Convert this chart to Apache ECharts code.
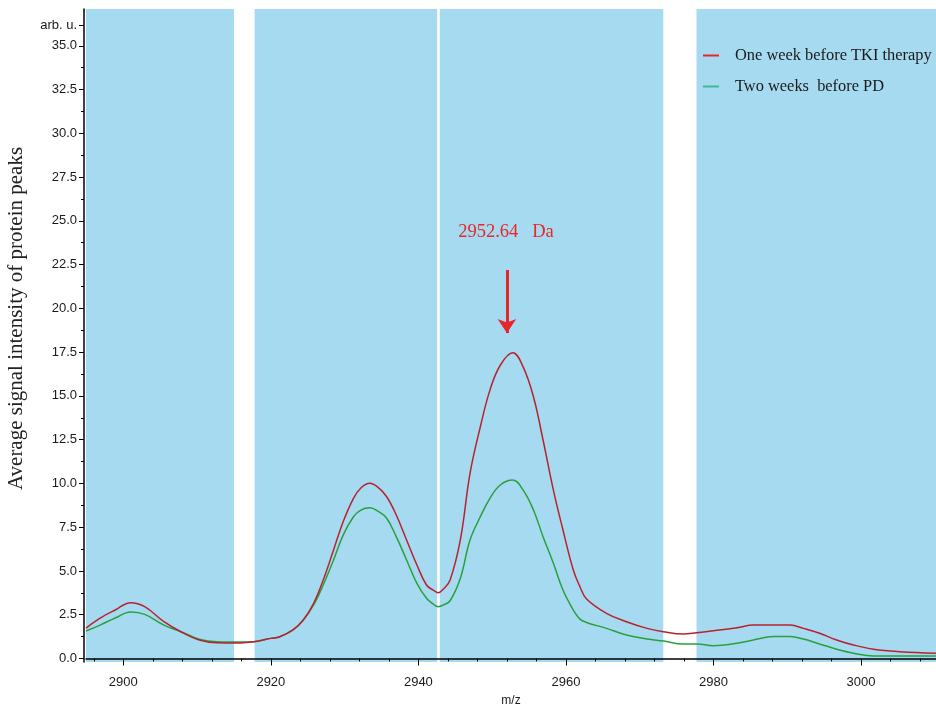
<!DOCTYPE html>
<html>
<head>
<meta charset="utf-8">
<script src="https://cdn.jsdelivr.net/npm/echarts@6/dist/echarts.min.js"></script>
<style>html,body{margin:0;padding:0;background:#fff}#c{width:936px;height:708px}</style>
</head>
<body>
<div id="c"></div>
<script>
// ---- data ----
var mz = [2894.94,2896.86,2898.9,2901.0,2902.9,2905.5,2907.8,2910.3,2912.7,2915.9,2917.7,2920.0,2921.2,2923.0,2924.4,2925.8,2927.1,2928.5,2929.8,2931.2,2932.2,2933.4,2934.5,2935.7,2937.0,2938.4,2939.8,2941.1,2942.0,2942.7,2943.4,2944.3,2945.7,2947.0,2948.4,2949.7,2951.1,2952.8,2954.2,2955.6,2956.9,2958.3,2959.6,2961.0,2961.9,2962.8,2965.5,2968.2,2971.0,2973.2,2975.9,2977.7,2980.0,2983.2,2985.4,2988.1,2990.4,2992.2,2994.4,2996.7,2999.0,3001.7,3005.3,3010.2];
var oneWeekTKI = [1.74,2.31,2.77,3.19,2.96,2.10,1.53,1.06,0.90,0.89,0.96,1.15,1.24,1.63,2.20,3.15,4.48,6.20,7.81,9.15,9.74,10.01,9.79,9.24,8.20,6.77,5.34,4.20,3.91,3.76,3.97,4.48,6.80,10.58,13.24,15.33,16.75,17.46,16.66,14.95,12.48,9.62,7.34,5.05,4.10,3.40,2.58,2.10,1.72,1.53,1.40,1.47,1.59,1.76,1.91,1.91,1.91,1.72,1.44,1.06,0.77,0.53,0.39,0.30];
var twoWeeksPD = [1.57,1.91,2.31,2.66,2.52,1.91,1.53,1.10,0.96,0.94,0.96,1.15,1.24,1.63,2.20,3.06,4.20,5.63,7.05,8.10,8.48,8.61,8.42,8.01,6.96,5.63,4.29,3.44,3.11,2.96,3.06,3.30,4.60,6.77,8.10,9.15,9.91,10.19,9.62,8.48,6.96,5.44,3.91,2.77,2.25,2.06,1.72,1.34,1.11,1.00,0.83,0.83,0.73,0.87,1.06,1.25,1.25,1.11,0.83,0.53,0.30,0.14,0.14,0.14];
var seriesNames = ['One week before TKI therapy', 'Two weeks  before PD'];
var xTicks = [2900, 2920, 2940, 2960, 2980, 3000];
var yTicks = [0, 2.5, 5, 7.5, 10, 12.5, 15, 17.5, 20, 22.5, 25, 27.5, 30, 32.5, 35];
var yUnitTick = 36.18; // "arb. u." tick
var bands = [[2894.94, 2915.0], [2917.8, 2942.55], [2942.9, 2973.2], [2977.7, 3010.17]];
var peakLabel = '2952.64   Da';
var peakArrow = {x: 2952.0, yFrom: 22.19, yTo: 18.59};
var peakText = {x: 2951.88, y: 24.36};

// ---- ranges ----
var xMin = 2894.94, xMax = 3010.17, yMin = -0.2, yMax = 37.1;

var xMinor = [];
for (var i = -1; i < xTicks.length; i++) {
  var base = i < 0 ? xTicks[0] - 20 : xTicks[i];
  for (var k = 1; k < 5; k++) {
    var v = base + k * 4;
    if (v > xMin && v < xMax) xMinor.push(v);
  }
}
var yMinor = [];
for (var j = 0; j < yTicks.length - 1; j++) yMinor.push((yTicks[j] + yTicks[j + 1]) / 2);

function zip(xs, ys) { return xs.map(function (x, i) { return [x, ys[i]]; }); }

var sans = 'Liberation Sans';
var serif = 'Liberation Serif';

var chart = echarts.init(document.getElementById('c'), null, {renderer: 'canvas'});
chart.setOption({
  animation: false,
  backgroundColor: '#ffffff',
  grid: {left: 86, top: 9, right: 0, bottom: 46, containLabel: false, outerBoundsMode: 'none'},
  legend: {
    orient: 'vertical', left: 703, top: 47, padding: 0,
    itemWidth: 16, itemHeight: 2, itemGap: 14,
    icon: 'rect',
    textStyle: {fontFamily: serif, fontSize: 16.4, color: '#1a1a1a', padding: [0, 0, 0, 11], lineHeight: 17},
    data: [
      {name: seriesNames[0], itemStyle: {color: '#e8262a'}},
      {name: seriesNames[1], itemStyle: {color: '#3cb89a'}}
    ]
  },
  xAxis: [{
    type: 'value', min: xMin, max: xMax, position: 'bottom', offset: 2, z: 10,
    name: 'm/z', nameLocation: 'middle', nameGap: 31,
    nameTextStyle: {fontFamily: sans, fontSize: 12, color: '#222'},
    axisLine: {show: true, lineStyle: {color: '#000', width: 1.5}},
    axisTick: {show: true, customValues: xTicks, length: 7, lineStyle: {color: '#000', width: 1}},
    axisLabel: {customValues: xTicks, fontFamily: sans, fontSize: 13, color: '#1a1a1a', margin: 12,
      formatter: function (v) { return String(Math.round(v)); }},
    splitLine: {show: false}
  }, {
    type: 'value', min: xMin, max: xMax, position: 'bottom', offset: 2, z: 10,
    axisLine: {show: false},
    axisTick: {show: true, customValues: xMinor, length: 3, lineStyle: {color: '#000', width: 1}},
    axisLabel: {show: false}, splitLine: {show: false}
  }],
  yAxis: [{
    type: 'value', min: yMin, max: yMax, position: 'left', offset: 2, z: 10,
    name: 'Average signal intensity of protein peaks', nameLocation: 'middle', nameGap: 57, nameRotate: 90,
    nameTextStyle: {fontFamily: serif, fontSize: 21, color: '#222', padding: [0, 0, 0, 34]},
    axisLine: {show: true, lineStyle: {color: '#000', width: 1.5}},
    axisTick: {show: true, customValues: yTicks.concat([yUnitTick]), length: 5, lineStyle: {color: '#000', width: 1}},
    axisLabel: {
      customValues: yTicks.concat([yUnitTick]), fontFamily: sans, fontSize: 13, color: '#1a1a1a', margin: 7,
      formatter: function (v) { return v > 35.5 ? 'arb. u.' : v.toFixed(1); }
    },
    splitLine: {show: false}
  }, {
    type: 'value', min: yMin, max: yMax, position: 'left', offset: 2, z: 10,
    axisLine: {show: false},
    axisTick: {show: true, customValues: yMinor, length: 3, lineStyle: {color: '#000', width: 1}},
    axisLabel: {show: false}, splitLine: {show: false}
  }],
  series: [{
    type: 'line', name: 'bands', data: [], z: 1, silent: true,
    markArea: {
      silent: true,
      itemStyle: {color: '#a6daf0'},
      data: bands.map(function (b) { return [{xAxis: b[0]}, {xAxis: b[1]}]; })
    }
  }, {
    type: 'line', name: seriesNames[1], data: zip(mz, twoWeeksPD), z: 3,
    showSymbol: false, smooth: 0.4, color: '#2aa03c',
    lineStyle: {color: '#2aa03c', width: 1.5}
  }, {
    type: 'line', name: seriesNames[0], data: zip(mz, oneWeekTKI), z: 4,
    showSymbol: false, smooth: 0.4, color: '#b8222e',
    lineStyle: {color: '#b8222e', width: 1.5},
    markLine: {
      silent: true, symbol: ['none', 'arrow'], symbolSize: 14,
      lineStyle: {color: '#e8262a', width: 3, type: 'solid'},
      label: {show: false},
      data: [[{coord: [peakArrow.x, peakArrow.yFrom]}, {coord: [peakArrow.x, peakArrow.yTo]}]]
    },
    markPoint: {
      silent: true, symbol: 'circle', symbolSize: 0,
      label: {show: true, position: 'inside', formatter: peakLabel, fontFamily: serif, fontSize: 18.5, color: '#e8262a'},
      data: [{coord: [peakText.x, peakText.y]}]
    }
  }]
});
</script>
</body>
</html>
